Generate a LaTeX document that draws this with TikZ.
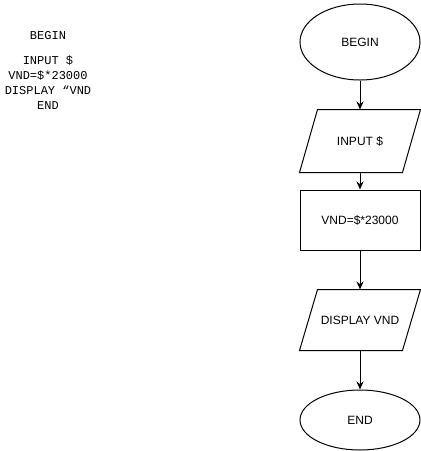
\documentclass[tikz,border=0pt]{standalone}
\usepackage{fontspec}
\setmainfont{Liberation Sans}
\setmonofont{Liberation Mono}
\usetikzlibrary{arrows.meta,shapes.geometric}

\begin{document}
\begin{tikzpicture}[x=1pt,y=-1pt,line width=1pt,
    arj/.style={-{Stealth[length=8pt,width=7pt]}},
    term/.style={draw,ellipse,minimum width=120pt,minimum height=60pt,font=\fontsize{12}{14}\selectfont},
    io/.style={rectangle,minimum width=120pt,minimum height=60pt,font=\fontsize{12}{14}\selectfont},
    proc/.style={draw,rectangle,minimum width=120pt,minimum height=60pt,font=\fontsize{12}{14}\selectfont}]
\useasboundingbox (0,0) rectangle (421,451);
% pseudo code
\node[align=center,inner sep=0pt,font=\ttfamily\fontsize{12}{15}\selectfont] (code) at (48,70)
    {BEGIN\\[10pt]INPUT \$\\VND=\$*23000\\DISPLAY “VND\\END};
% flowchart
\node[term,minimum height=76pt] (begin) at (360,42) {BEGIN};
\node[io,minimum height=62pt] (input) at (360,141) {INPUT \$};
\node[proc] (calc) at (360,220) {VND=\$*23000};
\node[io] (display) at (360,320) {DISPLAY VND};
\node[term] (end) at (360,420) {END};
% slanted sides of the io boxes
\foreach \n in {input,display}
  \draw ([xshift=18pt]\n.north west) -- (\n.north east)
    -- ([xshift=-18pt]\n.south east) -- (\n.south west) -- cycle;
\draw[arj] (begin) -- (input);
\draw[arj] (input) -- (calc);
\draw[arj] (calc) -- (display);
\draw[arj] (display) -- (end);
\end{tikzpicture}
\end{document}
